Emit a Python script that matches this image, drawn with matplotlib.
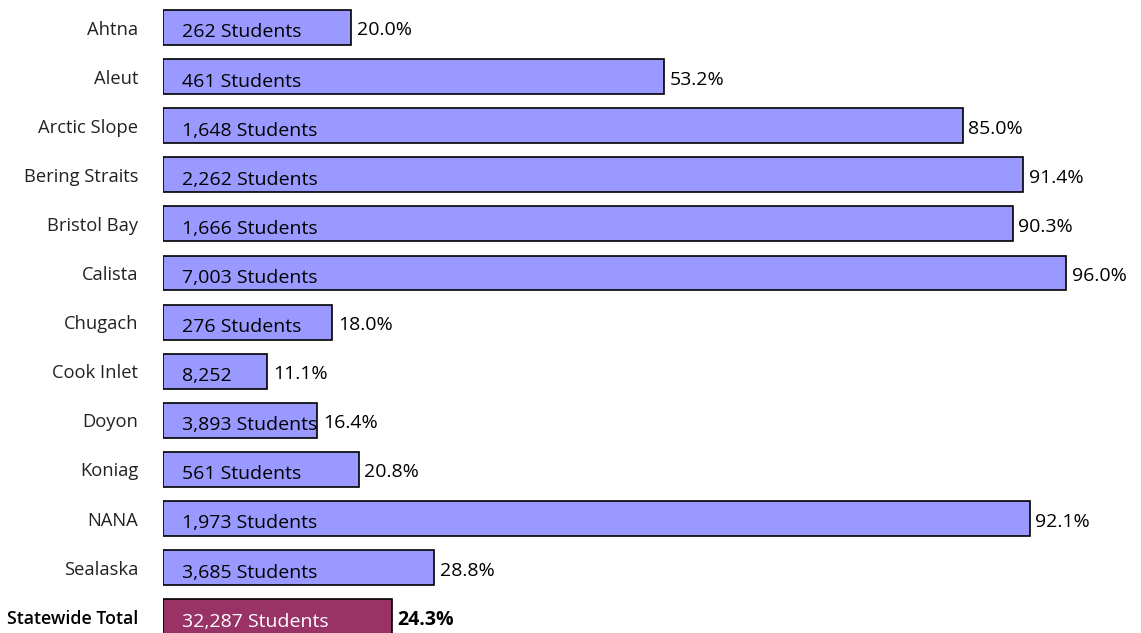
import matplotlib
matplotlib.use("Agg")
import matplotlib.pyplot as plt

plt.rcParams['font.family'] = ['Open Sans', 'DejaVu Sans']

regions = ["Ahtna", "Aleut", "Arctic Slope", "Bering Straits", "Bristol Bay", "Calista",
           "Chugach", "Cook Inlet", "Doyon", "Koniag", "NANA", "Sealaska", "Statewide Total"]
percents = [20.0, 53.2, 85.0, 91.4, 90.3, 96.0, 18.0, 11.1, 16.4, 20.8, 92.1, 28.8, 24.3]
students = ["262 Students", "461 Students", "1,648 Students", "2,262 Students", "1,666 Students",
            "7,003 Students", "276 Students", "8,252", "3,893 Students", "561 Students",
            "1,973 Students", "3,685 Students", "32,287 Students"]

bar_color = "#9999ff"
total_color = "#993366"

fig = plt.figure(figsize=(11.41, 6.33), dpi=100)
ax = fig.add_axes([163 / 1141, 0, 1 - 163 / 1141, 1])

n = len(regions)
ypos = list(range(n))
colors = [bar_color] * (n - 1) + [total_color]
ax.barh(ypos, percents, height=0.71, color=colors, edgecolor="black", linewidth=1.2)

for i in range(n):
    last = i == n - 1
    ax.text(2.0, i + 0.1, students[i], va="center", ha="left", fontsize=14,
            color="white" if last else "black")
    ax.text(percents[i] + 0.6, i + 0.06, f"{percents[i]:.1f}%", va="center", ha="left",
            fontsize=14, color="black", fontweight="bold" if last else "normal")

ax.set_xlim(0, (1141 - 163) / 9.41)
ax.set_ylim(12.33, -0.56)
ax.set_yticks(ypos)
ax.set_yticklabels(regions, fontsize=13.2, color="#222222")
total_lbl = ax.get_yticklabels()[-1]
total_lbl.set_fontweight("semibold")
total_lbl.set_fontsize(12.8)
total_lbl.set_color("black")
ax.tick_params(axis="y", length=0, pad=18)
ax.set_xticks([])
for s in ax.spines.values():
    s.set_visible(False)

fig.savefig("out.png", dpi=100)
